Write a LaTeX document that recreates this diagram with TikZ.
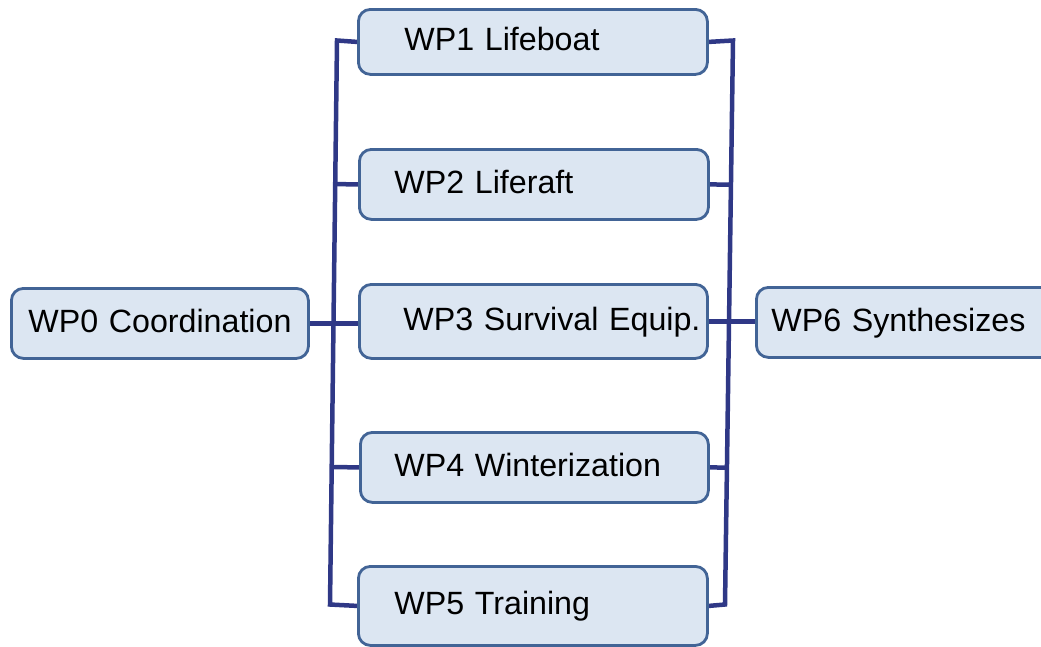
\documentclass[tikz,border=0pt]{standalone}
\usepackage{fontspec}
\setmainfont[WordSpace=0.75]{Liberation Sans}
\usetikzlibrary{calc,backgrounds}
\definecolor{navy}{RGB}{47,56,134}
\definecolor{boxborder}{RGB}{66,100,150}
\definecolor{boxfill}{RGB}{220,230,242}
\newcommand\wpstrut{\rule[-10pt]{0pt}{38pt}}
\begin{document}
\begin{tikzpicture}[x=1pt,y=-1pt,
  wpbox/.style={draw=boxborder, fill=boxfill, line width=2.8pt, rounded corners=12pt,
    anchor=north west, align=left, inner ysep=0pt,
    font=\fontsize{32.2}{38}\selectfont},
  link/.style={draw=navy, line width=4.5pt, line join=miter}]
\useasboundingbox (0,0) rectangle (1041,646);

\node[wpbox, minimum height=70pt, text width=263pt, inner xsep=17pt] (wp0) at (10,287) {\wpstrut\mbox{WP0 Coordination}};
\node[wpbox, minimum height=65pt, text width=257pt, inner xsep=46pt] (wp1) at (357,8) {\wpstrut\mbox{WP1 Lifeboat}};
\node[wpbox, minimum height=70pt, text width=279pt, inner xsep=35pt] (wp2) at (358,148) {\wpstrut\mbox{WP2 Liferaft}};
\node[wpbox, minimum height=74pt, text width=260pt, inner xsep=44pt] (wp3) at (358,283) {\wpstrut\mbox{WP3 Survival Equip.}};
\node[wpbox, minimum height=70pt, text width=280pt, inner xsep=34pt] (wp4) at (359,431) {\wpstrut\mbox{WP4 Winterization}};
\node[wpbox, minimum height=79pt, text width=277pt, inner xsep=36pt] (wp5) at (357,565) {\wpstrut\mbox{WP5 Training}};
\node[wpbox, minimum height=70pt, text width=270pt, inner xsep=15pt] (wp6) at (755,286) {\wpstrut\mbox{WP6 Synthesizes}};

\coordinate (Ltop) at (337,40.5);
\coordinate (Lbot) at (330,604.5);
\coordinate (Rtop) at (733,40.5);
\coordinate (Rbot) at (725,604.5);

\begin{scope}[on background layer]
  \draw[link] (wp1.west) -- (Ltop) -- (Lbot) -- (wp5.west);
  \draw[link] (wp1.east) -- (Rtop) -- (Rbot) -- (wp5.east);
  \draw[link] (wp2.west) -- ($(Ltop)!(wp2.west)!(Lbot)$);
  \draw[link] (wp4.west) -- ($(Ltop)!(wp4.west)!(Lbot)$);
  \draw[link] (wp0.east) -- (wp0.east -| wp3.west);
  \draw[link] (wp2.east) -- ($(Rtop)!(wp2.east)!(Rbot)$);
  \draw[link] (wp4.east) -- ($(Rtop)!(wp4.east)!(Rbot)$);
  \draw[link] (wp3.east) -- (wp3.east -| wp6.west);
\end{scope}
\end{tikzpicture}
\end{document}
